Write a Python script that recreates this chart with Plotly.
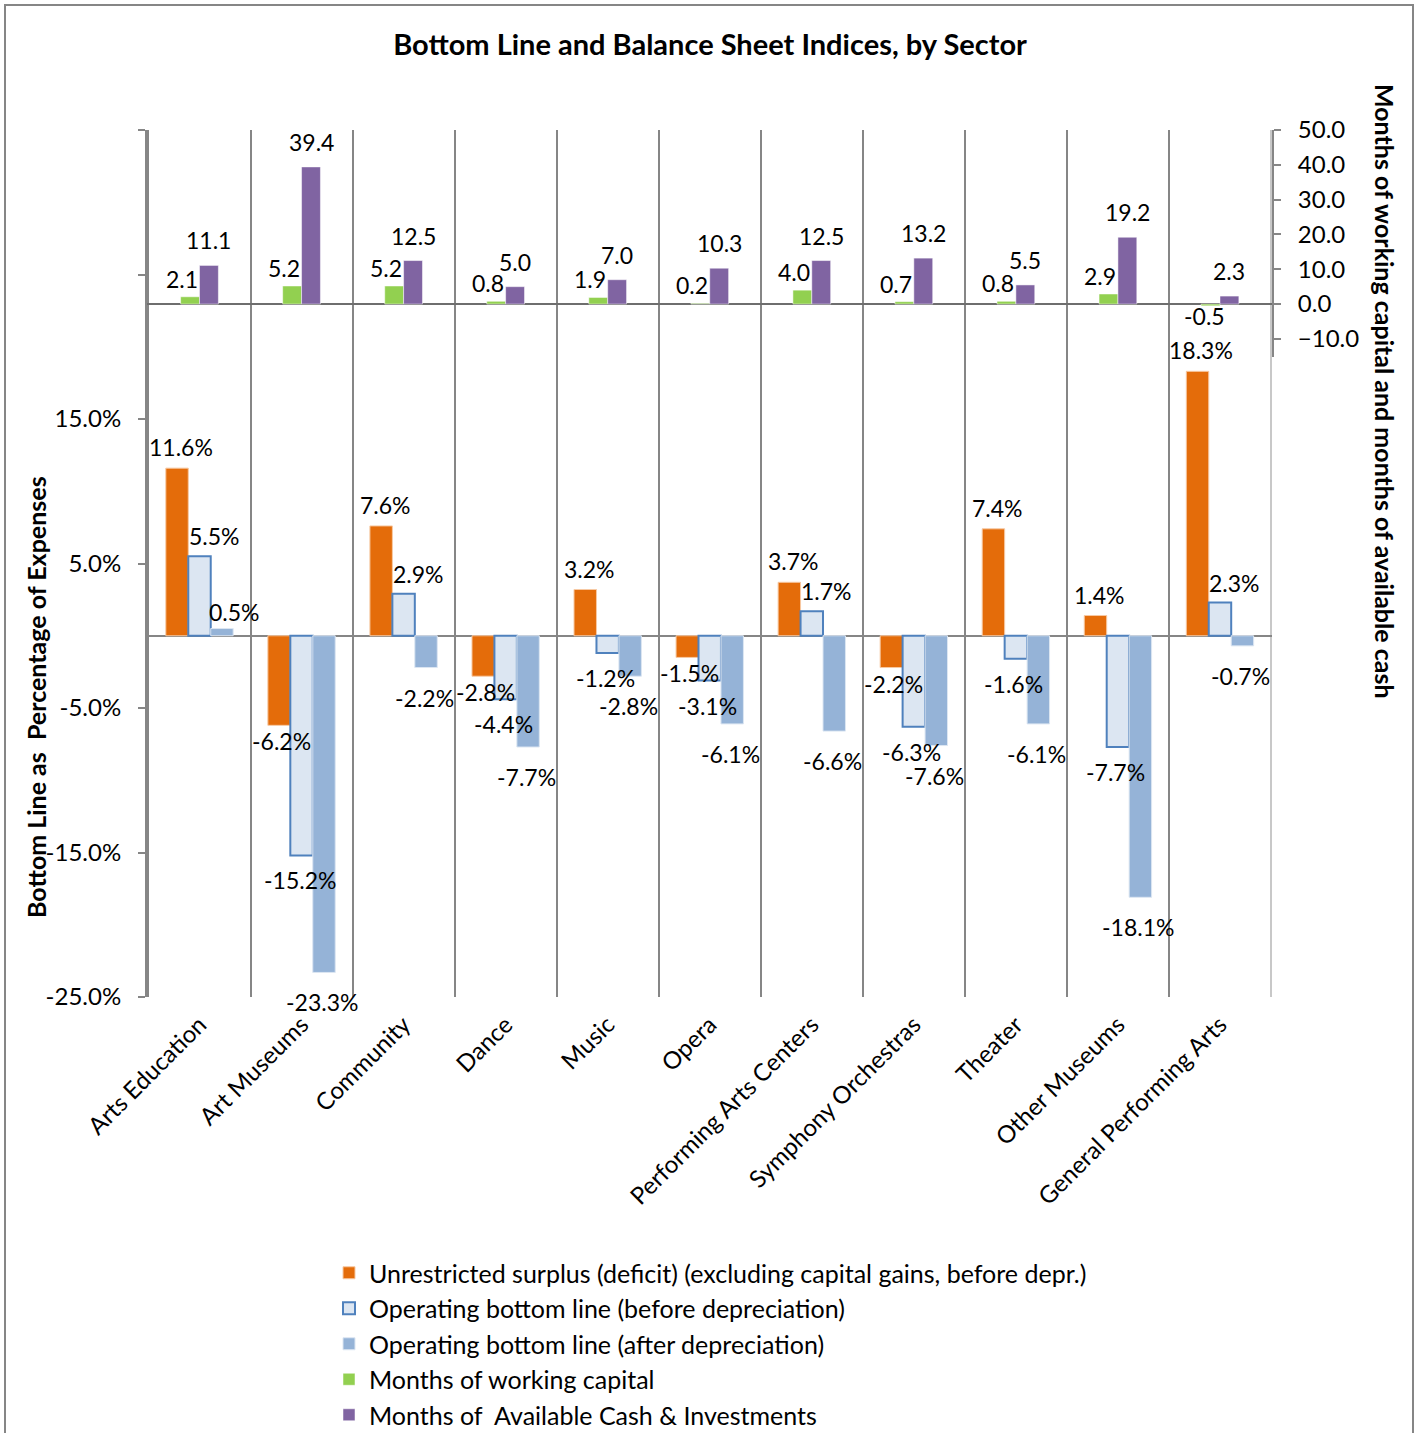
import plotly.graph_objects as go

# Sector categories
sectors = ["Arts Education", "Art Museums", "Community", "Dance", "Music", "Opera",
           "Performing Arts Centers", "Symphony Orchestras", "Theater", "Other Museums",
           "General Performing Arts"]

# Bottom line indices, % of expenses
unrestricted = [11.6, -6.2, 7.6, -2.8, 3.2, -1.5, 3.7, -2.2, 7.4, 1.4, 18.3]
op_before_depr = [5.5, -15.2, 2.9, -4.4, -1.2, -3.1, 1.7, -6.3, -1.6, -7.7, 2.3]
op_after_depr = [0.5, -23.3, -2.2, -7.7, -2.8, -6.1, -6.6, -7.6, -6.1, -18.1, -0.7]

# Balance sheet indices, months
working_capital = [2.1, 5.2, 5.2, 0.8, 1.9, 0.2, 4.0, 0.7, 0.8, 2.9, -0.5]
available_cash = [11.1, 39.4, 12.5, 5.0, 7.0, 10.3, 12.5, 13.2, 5.5, 19.2, 2.3]

# Axis ticks
pct_ticks = [-25, -15, -5, 5, 15, 25, 35]
pct_labels = ["-25.0%", "-15.0%", "-5.0%", "5.0%", "15.0%", "", ""]
month_ticks = [-10, 0, 10, 20, 30, 40, 50]

FONT = "Lato"
FS = 24     # axis tick labels
LFS = 23    # bar value labels
GRAY = "#868686"
W, H = 1420, 1433
L, R, T, B = 147, 148, 130, 436
PLOT_W = W - L - R
PLOT_H = H - T - B
CAT_PX = PLOT_W / len(sectors)

fig = go.Figure()

bw = 0.22
pct_series = [
    ("Unrestricted surplus (deficit) (excluding capital gains, before depr.)", unrestricted,
     -1.5 * bw, dict(color="#E46C0A", line=dict(color="#F7C9A3", width=1))),
    ("Operating bottom line (before depreciation)", op_before_depr,
     -0.5 * bw, dict(color="#DCE6F2", line=dict(color="#4F81BD", width=2))),
    ("Operating bottom line (after depreciation)", op_after_depr,
     0.5 * bw, dict(color="#95B3D7", line=dict(color="#DCE6F2", width=1))),
]
for name, vals, off, marker in pct_series:
    fig.add_trace(go.Bar(name=name, x=sectors, y=vals, width=bw, offset=off,
                         marker=marker, xaxis="x", yaxis="y"))

mw = 0.185
month_series = [
    ("Months of working capital", working_capital, -mw, "#92D050"),
    ("Months of  Available Cash & Investments", available_cash, 0.0, "#8064A2"),
]
for name, vals, off, col in month_series:
    fig.add_trace(go.Bar(name=name, x=sectors, y=vals, width=mw, offset=off,
                         marker=dict(color=col, line=dict(color="white", width=0.5)),
                         xaxis="x2", yaxis="y2"))

annotations = []
# value labels for the percentage bars: (pos dx, pos dy, neg dx, neg dy)
pct_label_shift = [
    (4, 21, 2, -16),
    (15, 20, -2, -25),
    (12, 17, -2, -30),
]
for (name, vals, off, _), sh in zip(pct_series, pct_label_shift):
    centre = (off + bw / 2) * CAT_PX
    for s, v in zip(sectors, vals):
        dx, dy = (sh[0], sh[1]) if v >= 0 else (sh[2], sh[3])
        annotations.append(dict(x=s, y=v, xref="x", yref="y", text=f"{v:.1f}%",
                                showarrow=False, xshift=centre + dx, yshift=dy,
                                xanchor="center", yanchor="middle",
                                font=dict(family=FONT, size=LFS, color="black")))

month_label_shift = [(-8, 18, -6, -10), (0, 25, 0, -12)]
for (name, vals, off, _), sh in zip(month_series, month_label_shift):
    centre = (off + mw / 2) * CAT_PX
    for s, v in zip(sectors, vals):
        dx, dy = (sh[0], sh[1]) if v >= 0 else (sh[2], sh[3])
        annotations.append(dict(x=s, y=v, xref="x2", yref="y2", text=f"{v:.1f}",
                                showarrow=False, xshift=centre + dx, yshift=dy,
                                xanchor="center", yanchor="middle",
                                font=dict(family=FONT, size=LFS, color="black")))

# axis titles
annotations.append(dict(text="<b>Bottom Line as  Percentage of Expenses</b>",
                        xref="paper", yref="paper", x=(36 - L) / PLOT_W,
                        y=(H - B - 697) / PLOT_H, textangle=-90, showarrow=False,
                        xanchor="center", yanchor="middle",
                        font=dict(family=FONT, size=25, color="black")))
annotations.append(dict(text="<b>Months of working capital and months of available cash</b>",
                        xref="paper", yref="paper", x=(1385 - L) / PLOT_W,
                        y=(H - B - 392) / PLOT_H, textangle=90, showarrow=False,
                        xanchor="center", yanchor="middle",
                        font=dict(family=FONT, size=25, color="black")))

top_dom_bottom = (H - B - 357) / PLOT_H

fig.update_layout(
    width=W, height=H,
    margin=dict(l=L, r=R, t=T, b=B, autoexpand=False),
    paper_bgcolor="white", plot_bgcolor="rgba(0,0,0,0)",
    barmode="overlay",
    font=dict(family=FONT, size=FS, color="black"),
    title=dict(text="<b>Bottom Line and Balance Sheet Indices, by Sector</b>",
               x=0.5, xref="container", xanchor="center",
               y=1 - 45 / H, yref="container", yanchor="middle",
               font=dict(family=FONT, size=29, color="black")),
    xaxis=dict(domain=[0, 1], anchor="y", type="category", tickangle=-45,
               showgrid=True, gridcolor=GRAY, gridwidth=2, tickson="boundaries",
               ticks="", showline=False, zeroline=False, ticklabelstandoff=8,
               automargin=False,
               tickfont=dict(family=FONT, size=FS, color="black")),
    yaxis=dict(domain=[0, 1], anchor="x", range=[-25, 35], tickvals=pct_ticks,
               ticktext=pct_labels, ticks="outside", ticklen=7, tickcolor=GRAY,
               tickwidth=2, showline=True, linecolor=GRAY, linewidth=2,
               showgrid=False, zeroline=True, zerolinecolor=GRAY, zerolinewidth=2,
               ticklabelstandoff=12, automargin=False,
               tickfont=dict(family=FONT, size=FS, color="black")),
    xaxis2=dict(domain=[0, 1], anchor="y2", type="category", matches="x",
                showticklabels=False, showgrid=False, ticks="", showline=False,
                zeroline=False, automargin=False),
    yaxis2=dict(domain=[top_dom_bottom, 1], anchor="x2", side="right",
                range=[-15.2, 50], tickvals=month_ticks, tickformat=".1f",
                ticks="outside", ticklen=7, tickcolor=GRAY, tickwidth=2,
                showline=True, linecolor=GRAY, linewidth=2, showgrid=False,
                zeroline=True, zerolinecolor="#6E6E6E", zerolinewidth=1.5,
                ticklabelstandoff=12, automargin=False,
                tickfont=dict(family=FONT, size=FS, color="black")),
    legend=dict(orientation="v", x=329 / W, xref="container", xanchor="left",
                y=1 - 1250 / H, yref="container", yanchor="top",
                font=dict(family=FONT, size=25, color="black"),
                traceorder="normal", itemwidth=30, bgcolor="rgba(0,0,0,0)"),
    annotations=annotations,
    shapes=[
        # light separator closing the last category
        dict(type="line", xref="x", yref="paper", x0=10.5, x1=10.5, y0=0, y1=1,
             line=dict(color="#C8C8C8", width=2), layer="below"),
        # chart frame
        dict(type="rect", xref="paper", yref="paper",
             x0=(5 - L) / PLOT_W, x1=(1413 - L) / PLOT_W,
             y0=-(1445 - (H - B)) / PLOT_H, y1=1 + (T - 5) / PLOT_H,
             line=dict(color=GRAY, width=2), fillcolor="rgba(0,0,0,0)",
             layer="below"),
    ],
)

fig.write_html("out.html")
